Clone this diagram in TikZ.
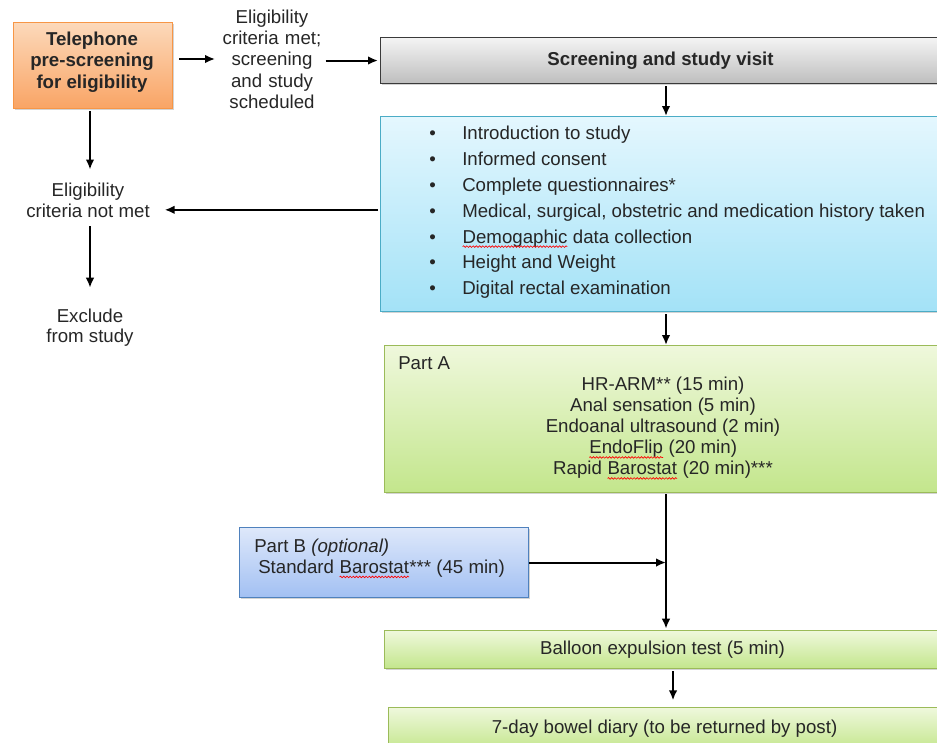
\documentclass[tikz,border=0pt]{standalone}
\usepackage{fontspec}
\setmainfont{Liberation Sans}
\usetikzlibrary{arrows.meta,shadows,decorations.pathmorphing}
\newcommand\redwave[1]{\tikz[baseline=(w.base)]{\node[inner sep=0pt, outer sep=0pt] (w) {#1};\draw[red, line width=0.5pt, decorate, decoration={snake, amplitude=0.6pt, segment length=2.4pt}] ([yshift=-2.6pt]w.base west) -- ([yshift=-2.6pt]w.base east);}}
\definecolor{orTop}{HTML}{FCD9BA}
\definecolor{orBot}{HTML}{F9A464}
\definecolor{orLine}{HTML}{F79646}
\definecolor{grTop}{HTML}{F4F4F4}
\definecolor{grBot}{HTML}{BEBEBE}
\definecolor{grLine}{HTML}{3A3A3A}
\definecolor{blTop}{HTML}{E4F7FE}
\definecolor{blBot}{HTML}{A3E2F7}
\definecolor{blLine}{HTML}{4BACC6}
\definecolor{gnTop}{HTML}{EFF8DC}
\definecolor{gnBot}{HTML}{C3E68C}
\definecolor{gnLine}{HTML}{9BBB59}
\definecolor{pbTop}{HTML}{DEE8FA}
\definecolor{pbBot}{HTML}{A2C0F3}
\definecolor{pbLine}{HTML}{4F81BD}
\tikzset{
  boxbase/.style={rectangle, line width=0.8pt, inner sep=0pt, anchor=north west,
    drop shadow={shadow xshift=1.2pt, shadow yshift=-1.2pt, opacity=0.35}},
  orbox/.style={boxbase, draw=orLine, top color=orTop, bottom color=orBot},
  grbox/.style={boxbase, draw=grLine, top color=grTop, bottom color=grBot},
  blbox/.style={boxbase, draw=blLine, top color=blTop, bottom color=blBot},
  gnbox/.style={boxbase, draw=gnLine, top color=gnTop, bottom color=gnBot},
  pbbox/.style={boxbase, draw=pbLine, top color=pbTop, bottom color=pbBot},
  txt/.style={inner sep=0pt, align=center, text=black!85, font=\fontsize{14}{16}\selectfont},
  arr/.style={-{Latex[length=7.5pt,width=6.5pt]}, line width=1.5pt},
}
\begin{document}
\begin{tikzpicture}[x=0.75pt, y=-0.75pt]
\useasboundingbox (0,0) rectangle (937,742);
% boxes
\node[orbox, minimum width=119.25pt, minimum height=64.5pt] (tel) at (13,22) {};
\node[txt, font=\fontsize{14}{16}\selectfont\bfseries] (telt) at (92,62) {Telephone\\pre-screening\\for eligibility};
\node[grbox, minimum width=420pt, minimum height=34.5pt, txt, font=\fontsize{14}{16}\selectfont\bfseries] (scr) at (380,37) {Screening and study visit};
\node[blbox, minimum width=420pt, minimum height=146.25pt] (blue) at (380,116) {};
\node[gnbox, minimum width=417pt, minimum height=110.25pt] (pa) at (384,345) {};
\node[pbbox, minimum width=216.75pt, minimum height=52.5pt] (pb) at (239,527) {};
\node[gnbox, minimum width=417pt, minimum height=28.5pt, txt] (bal) at (384,630) {Balloon expulsion test (5 min)};
\node[gnbox, minimum width=414pt, minimum height=32.25pt, txt] (dia) at (388,707) {7-day bowel diary (to be returned by post)};
% free texts
\node[txt, text width=80pt] (met) at (272,59) {Eligibility\\criteria met;\\screening\\and study\\scheduled};
\node[txt, inner xsep=11pt, font=\fontsize{14}{15.75}\selectfont] (nm) at (88,200.5) {Eligibility\\criteria not met};
\node[txt, font=\fontsize{14}{15}\selectfont] (excl) at (90,328) {Exclude\\from study};
\node[txt, align=left, anchor=west, font=\fontsize{14}{19.35}\selectfont] (blist) at (429,212.5) {%
\makebox[24.75pt][l]{\textbullet}Introduction to study\\
\makebox[24.75pt][l]{\textbullet}Informed consent\\
\makebox[24.75pt][l]{\textbullet}Complete questionnaires*\\
\makebox[24.75pt][l]{\textbullet}Medical, surgical, obstetric and medication history taken\\
\makebox[24.75pt][l]{\textbullet}\redwave{Demogaphic} data collection\\
\makebox[24.75pt][l]{\textbullet}Height and Weight\\
\makebox[24.75pt][l]{\textbullet}Digital rectal examination};
\node[txt, anchor=west] (palab) at (398,363) {Part A};
\node[txt, font=\fontsize{14}{15.75}\selectfont] (pait) at (663,428.5) {HR-ARM** (15 min)\\Anal sensation (5 min)\\Endoanal ultrasound (2 min)\\\redwave{EndoFlip} (20 min)\\Rapid \redwave{Barostat} (20 min)***};
\node[txt, align=left, anchor=west, font=\fontsize{14}{15.75}\selectfont] (pbt) at (254,558.5) {Part B \textit{(optional)}\\\hspace*{3pt}Standard \redwave{Barostat}*** (45 min)};
% columns
\coordinate (colL) at (90,0);
\coordinate (colA) at (666,0);
\coordinate (colB) at (673,0);
\coordinate (nmin) at ([yshift=-7pt]nm.east);
% connectors
\draw[arr, shorten <=4.5pt, shorten >=2.5pt] (tel.east |- met.west) -- (met.west);
\draw[arr, shorten >=1.5pt] (met.east |- scr.west) -- (scr.west);
\draw[arr, shorten <=1.5pt] (scr.south -| colA) -- (blue.north -| colA);
\draw[arr, shorten <=1.5pt] (blue.west |- nmin) -- (nmin);
\draw[arr, shorten <=1.5pt, shorten >=10pt] (tel.south -| colL) -- (nm.north -| colL);
\draw[arr, shorten <=6pt, shorten >=16pt] (nm.south -| colL) -- (excl.north -| colL);
\draw[arr, shorten <=1.5pt] (blue.south -| colA) -- (pa.north -| colA);
\draw[arr, shorten <=1pt, shorten >=1pt] (pa.south -| colA) -- (bal.north -| colA);
\draw[arr] (pb.east) -- (pb.east -| colA);
\draw[arr, shorten <=1.5pt, shorten >=5pt] (bal.south -| colB) -- (dia.north -| colB);
\end{tikzpicture}
\end{document}
